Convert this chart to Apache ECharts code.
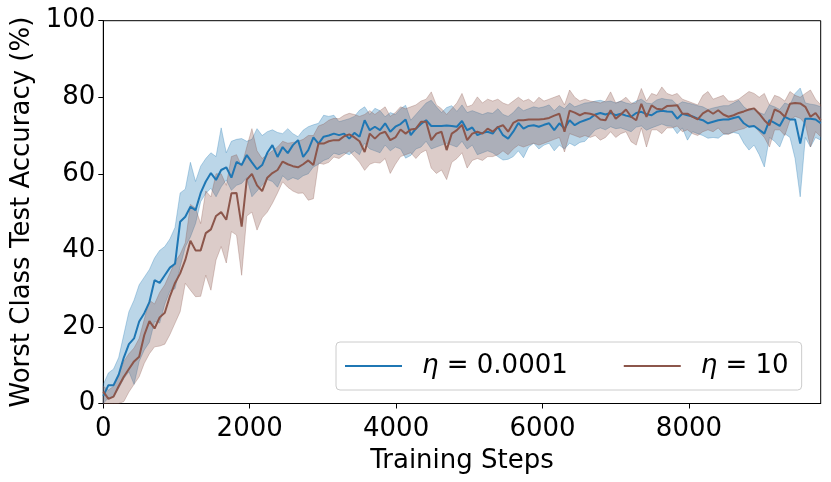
<!DOCTYPE html>
<html>
<head>
<meta charset="utf-8">
<script src="https://cdn.jsdelivr.net/npm/echarts@6/dist/echarts.min.js"></script>
<style>
html,body{margin:0;padding:0;background:#fff;}
#c{width:831px;height:482px;}
</style>
</head>
<body>
<div id="c"></div>
<script>
// sampling steps (x positions of evaluations)
const steps = Array.from({length: 141}, (_, i) => i * 70);

const xTicks = [0, 2000, 4000, 6000, 8000];
const yTicks = [0, 20, 40, 60, 80, 100];
const seriesNames = ['η = 0.0001', 'η = 10'];

// eta = 0.0001 (blue)
const blueMean = [2.0,4.8,4.8,7.5,12,15.5,17,21.4,23.6,26.5,32.2,31.5,33.5,35.5,36.5,47.5,48.8,51.4,50.5,55,
58,60.2,58.4,61,61.7,59,63.1,62.3,64.9,63,61.2,62.3,65.5,67.5,64.4,67,65.4,67.5,68.8,64.4,
66.2,69.5,67.9,69.7,70,70.5,70.1,70.5,69.2,70.7,69.7,74,71.4,72.3,71.4,73.2,71,72.3,73,74.2,
70.1,71.8,73,74,72.5,72.5,72.5,72.6,72.5,72.3,73.8,71.4,72.1,70.1,70.7,71,70.5,72.3,70.1,69.2,
71,73.3,71.8,72.5,72.7,72.3,72.8,73.2,71.4,73.2,71.8,74,72.7,73.5,74,74.5,75.5,75.9,75.5,75.9,
75.3,75.7,75.2,74.9,75.9,76.2,75.6,75.3,76.2,76.5,76.3,76.2,74.4,75.7,75.3,75,74.4,74,73.2,73.6,
74,74.2,74.2,74.6,74.9,73.2,72.3,72.5,71.5,70.5,74,73.3,72.5,74.9,74.2,74.2,67.9,74.4,74.4,74.2,73.2];
const blueLow = [0,1.5,1.8,4,6.5,8.3,5,11,14,16,21.4,21,26,29.4,30,35.7,40.9,43.5,47,52.7,
54.9,56.2,54,56.6,58.4,55.7,57,57.5,59,54,55.5,57,58.5,58,56.5,59.5,58.3,59,58.5,59.5,
60,61.8,62.5,63.5,64,65.4,65,65.5,65,66,65,68,66.5,66,65.5,67.5,66,67,66.5,64.1,
64.8,66.5,67,68.5,66.5,67,67.5,68,67.5,67,68.5,66.5,67.5,65,65.5,66,65.5,64.5,63.6,63.8,
64.5,66,64.2,67,68,66.5,67.5,68,66,67.5,66.5,68,67.3,68.2,68.5,70,71.5,72,71.5,72.3,
71.8,72,71.5,71,72.2,72.5,71.4,72,72.5,73,72.5,72.4,70.5,72,68.8,71,70.5,70,69.3,69.5,
69.3,70.3,70.5,70.8,70.5,68,66.2,67.5,65,61.8,69.5,68.5,67,70.5,69.5,64,54,69.5,67,69.5,68.8];
const blueHigh = [5,8,9,12,18,24,27,31,33,35,38,40,41,43,46,55,56,63,58,62,
64,65.5,64.5,72,65.5,68.5,69,69.2,68.5,69,71.8,70,71,71.5,70.8,70.5,71.8,70.5,69.7,71.4,
72.3,72.8,73.2,75.3,75,75.3,73.6,74,74.4,75,76.6,77.5,75.5,77.1,76.5,74.9,76,75.5,77,77.9,
74,75.5,77,78.5,79.2,77.5,76,77.3,77.8,76.3,78,76,76.5,76,75.5,76,75.8,77,75.5,75,
76,77.5,76.5,77,77.5,77.2,77.5,78,76.5,77.8,77,78.5,77.5,78,78.5,78.6,79,79.2,78.8,79,
78.5,79,78.5,78.2,79,79.5,78.5,78.3,79.3,79.7,79.4,79.3,78,78.8,78.5,78.2,77.8,77.5,76.8,77.2,
77.5,77.8,77.8,78.5,79.2,77.5,76.5,76.8,76,75.5,78,77.5,76.8,78.5,78,81,82.4,78.5,78.2,78,77.5];

// eta = 10 (brown)
const brownMean = [3.1,1.2,1.8,4.5,7,9,11,12.2,17.9,21.5,19.6,22.5,23.7,28,31.5,34,37.5,42.5,40,40,
44.5,45.5,49,50,48,54.9,55,46.2,58.5,60,57,55.5,59,60.2,61,63.2,62.5,62,61.7,62.5,
63.5,62.3,67.9,67.9,68.5,68.8,68.8,69.8,70.3,69.5,68.5,65.7,70.5,69.2,70.5,71,68.8,69.5,71.6,70.5,
71.6,71.8,73.6,73.6,68.8,70.5,71,66.2,70.5,71.4,72.8,68.8,70.5,71,70.5,71.8,71,72.2,72.7,71,
73.3,74,74,74.2,74.2,74.2,74.3,74.6,75.2,75.7,71,76.5,76,75.3,75.9,75.7,75.3,74.2,74,76.6,
74.4,75.5,76.8,74.9,74,78.3,74.9,77.9,77,76.8,77.7,77.8,77.9,75.7,75.7,74.9,74.2,75.8,76.6,75.7,
76.6,75.5,74.9,75.3,75.9,76.3,76.8,77.1,75.7,74,72.7,76.8,76.2,74.9,78.3,78.5,78.4,77.5,74.9,75.9,74];
const brownLow = [0,0,0,0,0.5,3,5,7,10.5,13,14.8,15,15.5,18,21,24,31.4,29.6,27.9,28,
33.5,29.6,37.5,41,36.7,44.9,44,33.5,49,50,45.3,48.5,50,52.3,55,57.9,56.5,55.5,54.9,55,
53.1,53.5,62.8,62.5,63,64.4,64,65,66,64.5,63,60.9,62.5,63,62.8,64,60.1,62.5,64.5,65,
65.5,64,65.5,66.2,61.5,60.1,61,58.5,63,64,65.5,61.5,63.5,64,63.5,64.5,64.5,65,66,65,
66.5,67.5,67,67.5,68,67.5,68,68.5,69,69.5,65.7,70.5,70,69.5,70,69.5,70,68.8,69.5,71,
69.5,70.5,71,68.4,67.5,72,67,71.5,71.5,70.5,72,72,72.5,71,71.5,70.5,70,71,71.5,71,
72,70.5,70.3,71,71.5,71.8,72.5,72.5,71,69.5,67,71.5,71.5,70,74,75,74.5,73,67,71,69.7];
const brownHigh = [4.5,3.5,4.5,7.5,11,13,14.5,17,22,27,26,29,31,34,37,39,42,52,51,47,
55.5,54,60,60,57,64.5,65,62,67,71.8,66,64,65,66,67,68.5,68,68.2,68.5,69,
70,70,72.5,73,74,74.5,74.4,75.3,75.8,75.5,75,75.5,76.5,75.5,76.5,77.5,75,76,77.5,77,
77.5,78,79,79.5,81.4,78,77,75.5,77,78.5,81,77.5,78,80.1,78.5,79.5,79,79.5,78.5,78,
79,80,79,79.5,78.5,80,79,79.5,80,80.5,78,81.9,80,79,79.5,79,78.8,78.5,79,81.4,
78.5,79,80,78.5,78.5,82.3,79,81,80.5,82.7,81,80.5,81,79.5,79,78.5,78,80.5,81.5,79.5,
80,80.5,79,79,79.5,80.5,81.5,81,80,81,78,80.5,80,79,81.5,80.5,80,81,81.9,79.5,78];

const BLUE = '#1f77b4';
const BROWN = '#8c564b';
const FONT = 'DejaVu Sans';

function zip(a, b) { return a.map((v, i) => [v, b[i]]); }

function band(name, lo, hi, rgb) {
  const data = steps.map((s, i) => [s, lo[i], hi[i]]);
  return {
    type: 'custom',
    name: name,
    silent: true,
    z: 1,
    data: data,
    encode: {x: 0, y: [1, 2]},
    renderItem: function (params, api) {
      if (params.dataIndex !== 0) return;
      const top = data.map(d => api.coord([d[0], d[2]]));
      const bot = data.map(d => api.coord([d[0], d[1]])).reverse();
      return {
        type: 'polygon',
        shape: {points: top.concat(bot)},
        style: {
          fill: 'rgba(' + rgb + ',0.3)',
          stroke: 'rgba(' + rgb + ',0.3)',
          lineWidth: 1
        }
      };
    }
  };
}

const chart = echarts.init(document.getElementById('c'), null, {renderer: 'canvas'});
chart.setOption({
  animation: false,
  backgroundColor: '#ffffff',
  grid: {
    left: 103.3, right: 10.3, top: 20.7, bottom: 78.5,
    show: true, borderColor: '#000', borderWidth: 1, backgroundColor: 'transparent'
  },
  xAxis: {
    type: 'value', min: 0, max: 9800, interval: 2000,
    name: 'Training Steps', nameLocation: 'middle', nameGap: 45,
    nameTextStyle: {fontSize: 26, fontFamily: FONT, color: '#000'},
    axisLine: {show: true, lineStyle: {color: '#000', width: 1}},
    axisTick: {show: true, length: 5, lineStyle: {color: '#000'}, customValues: xTicks},
    axisLabel: {fontSize: 26, fontFamily: FONT, color: '#000', margin: 13, customValues: xTicks,
      formatter: function (v) { return String(v); }},
    splitLine: {show: false}
  },
  yAxis: {
    type: 'value', min: 0, max: 100, interval: 20,
    name: 'Worst Class Test Accuracy (%)', nameLocation: 'middle', nameGap: 61,
    nameTextStyle: {fontSize: 26, fontFamily: FONT, color: '#000'},
    axisLine: {show: true, lineStyle: {color: '#000', width: 1}},
    axisTick: {show: true, length: 5, lineStyle: {color: '#000'}, customValues: yTicks},
    axisLabel: {fontSize: 26, fontFamily: FONT, color: '#000', margin: 8, customValues: yTicks,
      formatter: function (v) { return String(v); }},
    splitLine: {show: false}
  },
  legend: {
    data: seriesNames,
    left: 336, top: 342,
    padding: [9, 13, 9, 9],
    itemWidth: 57, itemHeight: 2, itemGap: 56,
    icon: 'rect',
    itemStyle: {borderWidth: 0},
    backgroundColor: 'rgba(255,255,255,0.8)',
    borderColor: '#cccccc', borderWidth: 1, borderRadius: 4,
    textStyle: {fontSize: 26, fontFamily: FONT, color: '#000', lineHeight: 30,
      rich: {
        g: {width: 15},
        i: {fontSize: 26, fontFamily: FONT, fontStyle: 'italic', color: '#000', lineHeight: 30}
      }
    },
    formatter: function (n) { return '{g|}{i|η}' + n.slice(1); }
  },
  series: [
    band('band1', blueLow, blueHigh, '31,119,180'),
    band('band2', brownLow, brownHigh, '140,86,75'),
    {
      type: 'line', name: seriesNames[0], data: zip(steps, blueMean),
      symbol: 'none', showSymbol: false, z: 3,
      lineStyle: {color: BLUE, width: 2}, itemStyle: {color: BLUE}
    },
    {
      type: 'line', name: seriesNames[1], data: zip(steps, brownMean),
      symbol: 'none', showSymbol: false, z: 4,
      lineStyle: {color: BROWN, width: 2}, itemStyle: {color: BROWN}
    }
  ]
});
</script>
</body>
</html>
